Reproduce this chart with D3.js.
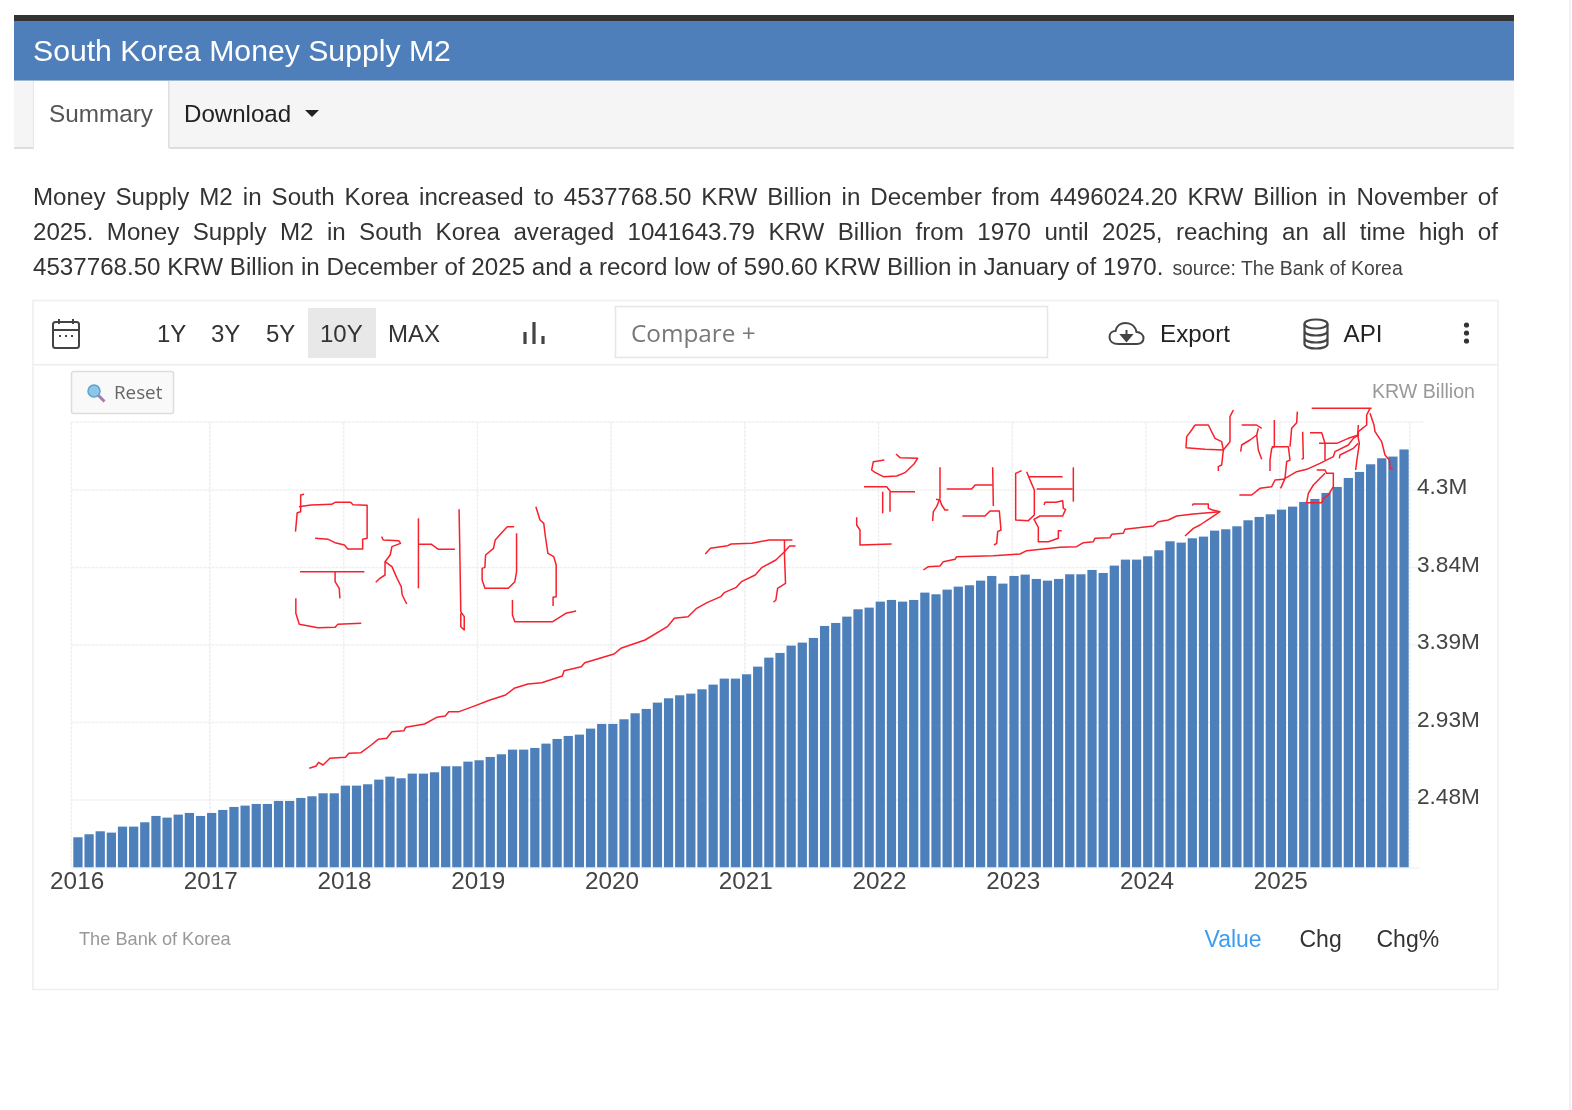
<!DOCTYPE html>
<html><head><meta charset="utf-8">
<script src="https://cdn.jsdelivr.net/npm/d3@7/dist/d3.min.js"></script>
<style>html,body{margin:0;padding:0;background:#fff;overflow:hidden}svg{display:block;filter:blur(0.4px)}text{font-family:"Liberation Sans",Arial,sans-serif}</style>
</head><body><script>
const years=["2016","2017","2018","2019","2020","2021","2022","2023","2024","2025"];
const monthNames=["01","02","03","04","05","06","07","08","09","10","11","12"];
const values2016=[2.2605,2.2781,2.2957,2.2879,2.3231,2.3231,2.3485,2.3857,2.3759,2.3936,2.4033,2.3857];
const values2017=[2.4033,2.4210,2.4386,2.4464,2.4562,2.4562,2.4738,2.4738,2.4914,2.5012,2.5188,2.5188];
const values2018=[2.5638,2.5638,2.5717,2.5991,2.6167,2.6069,2.6343,2.6343,2.6421,2.6774,2.6774,2.7048];
const values2019=[2.7126,2.7322,2.7478,2.7752,2.7752,2.7850,2.8105,2.8379,2.8555,2.8633,2.8986,2.9260];
const values2020=[2.9260,2.9534,2.9886,3.0141,3.0512,3.0767,3.0943,3.1041,3.1295,3.1569,3.1922,3.1922];
const values2021=[3.2176,3.2626,3.3155,3.3429,3.3859,3.4036,3.4310,3.5014,3.5190,3.5562,3.5993,3.6091];
const values2022=[3.6443,3.6541,3.6443,3.6541,3.6972,3.6874,3.7148,3.7324,3.7402,3.7676,3.7950,3.7500];
const values2023=[3.7950,3.8029,3.7774,3.7676,3.7774,3.8048,3.8048,3.8303,3.8126,3.8557,3.8909,3.8909];
const values2024=[3.9105,3.9457,3.9986,3.9908,4.0162,4.0260,4.0612,4.0691,4.0867,4.1219,4.1415,4.1571];
const values2025=[4.1845,4.2021,4.2295,4.2472,4.2824,4.3176,4.3705,4.4057,4.4507,4.4860,4.4960,4.5378];
const yTickValues=[2.48,2.935,3.39,3.845,4.3];
const yTickLabels=["2.48M","2.93M","3.39M","3.84M","4.3M"];
const rangeLabels=["1Y","3Y","5Y","10Y","MAX"];
const paragraph=[
"Money Supply M2 in South Korea increased to 4537768.50 KRW Billion in December from 4496024.20 KRW Billion in November of",
"2025. Money Supply M2 in South Korea averaged 1041643.79 KRW Billion from 1970 until 2025, reaching an all time high of",
"4537768.50 KRW Billion in December of 2025 and a record low of 590.60 KRW Billion in January of 1970."];
const sourceNote="source: The Bank of Korea";

const allValues=[].concat(values2016,values2017,values2018,values2019,values2020,values2021,values2022,values2023,values2024,values2025);
const months=years.flatMap(y=>monthNames.map(m=>y+"-"+m));

const W=1572,H=1110;
const svg=d3.select("body").append("svg").attr("width",W).attr("height",H).attr("viewBox",`0 0 ${W} ${H}`);
const rect=(x,y,w,h,fill,stroke,sw)=>svg.append("rect").attr("x",x).attr("y",y).attr("width",w).attr("height",h).attr("fill",fill).attr("stroke",stroke||"none").attr("stroke-width",sw||0);
const txt=(s,x,y,size,fill,anchor)=>svg.append("text").text(s).attr("x",x).attr("y",y).attr("font-size",size).attr("fill",fill).attr("text-anchor",anchor||"start");

// page chrome
rect(1569.5,0,1,H,"#e4e4e4");
rect(14,15,1500,6,"#333");
rect(14,21,1500,60,"#4e7fbb");
rect(14,80,1500,1,"#9fb7d6");
txt("South Korea Money Supply M2",33,61,30.2,"#fff");
rect(14,81,1500,67,"#f5f5f5");
rect(14,147,1500,2,"#dedede");
rect(33,81,136,68,"#fff");
rect(33,81,1,68,"#e6e6e6");
rect(168,81,1.5,67,"#dedede");
txt("Summary",49,122,24.3,"#555");
txt("Download",184,122,24.1,"#222");
svg.append("path").attr("d","M305 110h14l-7 7z").attr("fill","#222");

// paragraph, justified by measured word spacing
const parY=[205,240,275];
paragraph.forEach((line,i)=>{
  const t=txt(line,33,parY[i],24.15,"#333");
  if(i<2){
    const n=line.split(" ").length-1;
    const len=t.node().getComputedTextLength();
    t.attr("word-spacing",(1498-33-len)/n);
  }else{
    const len=t.node().getComputedTextLength();
    txt(sourceNote,33+len+9,275,19.4,"#444");
  }
});

// card and toolbar
rect(33,300.5,1465,689,"#fff","#eeeeee",1.5);
rect(33,364,1465,1.5,"#eeeeee");
const ink="#444";
const cal=svg.append("g").attr("fill","none").attr("stroke",ink).attr("stroke-width",2);
cal.append("rect").attr("x",53).attr("y",322).attr("width",26).attr("height",26).attr("rx",2.5);
cal.append("path").attr("d","M53 330h26M59 319v5M73 319v5");
cal.append("path").attr("d","M59 336h2M65 336h2M71 336h2").attr("stroke-width",2);
rect(308,308,68,50,"#e8e8e8");
const rangeX=[157,211,266,320,388];
rangeLabels.forEach((r,i)=>txt(r,rangeX[i],342,24,"#333"));
svg.append("path").attr("d","M525 332v12M534 322v22M543 336v8").attr("stroke",ink).attr("stroke-width",3.2).attr("fill","none");
rect(615.5,306.5,432,51,"#fff","#e6e6e6",1.5);
txt("Compare +",631,342,24.3,"#777").style("font-family","'Open Sans'");
svg.append("g").attr("transform","translate(2.5,0)").call(g=>{
  g.append("path").attr("d","M1116 344c-6 0-9-3-9-7s3-6 6-6c1-5 5-8 10-8 6 0 10 4 11 9 4 0 7 3 7 6 0 4-3 6-7 6z").attr("fill","none").attr("stroke",ink).attr("stroke-width",2);
  g.append("path").attr("d","M1124 330v8M1119 335l5 6 5-6z").attr("stroke",ink).attr("stroke-width",2).attr("fill",ink);
});
txt("Export",1160,342,24.2,"#222");
const db=svg.append("g").attr("fill","none").attr("stroke",ink).attr("stroke-width",2.2);
db.append("ellipse").attr("cx",1316).attr("cy",324).attr("rx",11.5).attr("ry",4.5);
db.append("path").attr("d","M1304.5 324v20c0 6 23 6 23 0v-20M1304.5 331c0 6 23 6 23 0M1304.5 338c0 6 23 6 23 0");
txt("API",1343.5,342,24.2,"#222");
[325,333,341].forEach(cy=>svg.append("circle").attr("cx",1466.5).attr("cy",cy).attr("r",2.6).attr("fill","#333"));
svg.append("rect").attr("x",71.5).attr("y",371.5).attr("width",102).attr("height",42).attr("rx",2).attr("fill","#f9f9f9").attr("stroke","#dddddd").attr("stroke-width",1.5);
svg.append("circle").attr("cx",94).attr("cy",391).attr("r",6).attr("fill","#8ec6e6").attr("stroke","#5aa3cf").attr("stroke-width",1.5);
svg.append("path").attr("d","M98.5 395.5l6 6").attr("stroke","#a87ca8").attr("stroke-width",3);
txt("Reset",114,399,18.8,"#666").style("font-family","'Open Sans'");
txt("KRW Billion",1475,398,19.6,"#999","end");

// chart
const plot={left:71.42,right:1410.58,top:422,bottom:867.5};
const x=d3.scaleBand().domain(months).range([plot.left,plot.right]).padding(0.17).align(0.5);
const y=d3.scaleLinear().domain([2.083,4.699]).range([plot.bottom,plot.top]);
const januaries=years.map(v=>v+"-01");

const gridStyle=s=>s.attr("stroke","#efefef").attr("stroke-width",1.5).attr("stroke-dasharray","3 1");
const hGrid=svg.append("g");
hGrid.selectAll("line").data(yTickValues.concat([4.699])).join("line")
  .attr("x1",plot.left).attr("x2",1424).attr("y1",d=>y(d)).attr("y2",d=>y(d)).call(gridStyle);
const vGrid=svg.append("g");
vGrid.selectAll("line").data(januaries.slice(1)).join("line")
  .attr("x1",d=>x(d)+x.bandwidth()/2-1.7).attr("x2",d=>x(d)+x.bandwidth()/2-1.7)
  .attr("y1",plot.top).attr("y2",plot.bottom).call(gridStyle);
svg.append("line").attr("x1",plot.left).attr("x2",plot.left).attr("y1",plot.top).attr("y2",plot.bottom).call(gridStyle);
svg.append("line").attr("x1",1410).attr("x2",1410).attr("y1",plot.top).attr("y2",plot.bottom).call(gridStyle);

svg.append("g").selectAll("rect").data(allValues).join("rect")
  .attr("x",(d,i)=>x(months[i])).attr("width",x.bandwidth())
  .attr("y",d=>y(d)).attr("height",d=>y.range()[0]-y(d)).attr("fill","#4d7fbb");
svg.append("line").attr("x1",plot.left).attr("x2",1420).attr("y1",plot.bottom+.5).attr("y2",plot.bottom+.5).attr("stroke","#e8edf4").attr("stroke-width",1);

const xAxis=d3.axisBottom(x).tickValues(januaries).tickSize(0).tickPadding(0).tickFormat(d=>d.slice(0,4));
const gx=svg.append("g").attr("transform",`translate(-0.8,${plot.bottom})`).call(xAxis);
gx.select(".domain").remove();
gx.selectAll("text").attr("font-size",24.3).attr("fill","#444").attr("y",21.5).attr("dy",0).style("font-family",'"Liberation Sans"');

const yAxis=d3.axisRight(y).tickValues(yTickValues).tickSize(0).tickPadding(0).tickFormat((d,i)=>yTickLabels[i]);
const gy=svg.append("g").attr("transform","translate(1417,0)").call(yAxis);
gy.select(".domain").remove();
gy.selectAll("text").attr("font-size",22.6).attr("fill","#444").attr("dy",4).style("font-family",'"Liberation Sans"');

txt("The Bank of Korea",79,945,18.2,"#999");
txt("Value",1204.5,947,23,"#3d9cf0");
txt("Chg",1299.5,947,23,"#333");
txt("Chg%",1376.5,947,23,"#333");

// hand-drawn red annotations, traced in crop pixels from an origin
const scribbleA=[
[[70,43],[60,45],[60,95],[50,98],[45,155]],
[[55,80],[90,75],[150,73],[160,67],[205,67],[212,74],[253,76],[253,175],[240,178],[240,207],[197,207],[187,195],[160,188],[140,178],[102,175]],
[[58,275],[245,275]],
[[160,275],[160,305],[172,325],[174,355]],
[[46,355],[46,400],[56,433],[110,443],[160,442],[168,433],[236,430]],
[[295,170],[300,180],[345,182],[350,190],[325,200],[320,225],[305,245],[305,285],[290,295],[278,307]],
[[305,245],[325,260],[340,295],[352,320],[355,345],[368,372]],
[[402,115],[402,325]],
[[402,193],[440,193],[460,208],[508,208]],
[[520,88],[522,200],[525,395],[535,410],[535,450],[525,440],[525,400]],
[[680,140],[660,140],[645,157],[625,180],[620,205],[597,225],[595,262],[587,265],[587,300],[595,325],[663,325],[682,305],[687,275],[687,160]],
[[743,80],[755,120],[766,130],[770,165],[778,220],[795,230],[802,255],[802,350],[793,352],[793,378]],
[[675,360],[675,405],[682,425],[792,425],[830,400],[860,393]],
[[85,865],[105,858],[112,847],[125,855],[145,835],[190,832],[200,820],[235,818],[265,795],[285,778],[310,775],[325,755],[360,752],[365,742],[420,732],[455,712],[480,708],[490,695],[520,695],[560,680],[610,660],[655,645],[680,625],[720,612],[760,608],[820,588],[825,572],[875,560],[885,548],[970,522],[990,505],[1060,480],[1125,440],[1145,415],[1185,410],[1210,385],[1240,368],[1280,350],[1290,338],[1325,322],[1340,305],[1380,285],[1400,262],[1440,240],[1465,215],[1480,198],[1497,198]],
[[1235,222],[1250,205],[1300,197],[1310,192],[1370,190],[1420,180],[1488,180]],
[[1465,180],[1465,225],[1468,310],[1445,325],[1440,360],[1433,367]]];
const scribbleB=[
[[168,42],[180,53],[233,55],[222,72],[195,98],[170,108],[130,110],[105,97],[95,90],[100,65],[133,60]],
[[72,140],[140,140],[152,155],[225,155]],
[[128,155],[128,220]],
[[150,155],[150,215]],
[[50,232],[50,255],[60,270],[60,315],[155,312]],
[[300,82],[300,175]],
[[288,178],[300,180],[305,195],[315,210],[325,210]],
[[300,175],[290,200],[280,215],[278,243]],
[[320,147],[395,147],[405,135],[458,135]],
[[458,82],[460,198]],
[[367,228],[435,228],[450,213],[478,213],[483,270],[473,275],[470,310],[462,315]],
[[545,92],[527,100],[527,240],[565,242],[583,225],[583,150],[568,115],[560,95]],
[[565,110],[668,110]],
[[590,147],[698,147]],
[[700,82],[700,185]],
[[612,195],[615,187],[648,187],[668,182],[670,205],[677,208],[668,228],[600,228],[582,238],[595,262],[595,305],[625,305],[655,295],[655,272],[665,272]],
[[250,390],[265,380],[300,378],[310,365],[345,358],[350,350],[460,347],[540,342],[560,332],[660,322],[710,320],[730,308],[760,305],[765,295],[810,293],[815,283],[850,280],[855,268],[940,258],[955,245],[985,240],[1010,228],[1060,222],[1140,215]],
[[1057,197],[1060,192],[1105,192],[1105,205],[1118,210],[1140,215],[1110,235],[1080,255],[1060,265],[1035,288]]];
const scribbleC=[
[[640,30],[630,50],[630,125],[610,150],[605,195],[595,200],[595,213]],
[[525,75],[565,75],[585,115],[605,125],[610,150],[555,148],[498,143],[500,110],[515,90],[525,75]],
[[665,75],[710,75],[725,85]],
[[715,85],[710,105],[690,120],[665,135],[662,155]],
[[710,105],[715,150],[725,178]],
[[763,60],[763,140],[755,145],[750,180],[750,213]],
[[755,140],[805,140],[810,180],[800,185],[795,235],[782,265]],
[[832,35],[830,68],[815,85],[810,140]],
[[848,95],[850,175],[845,178]],
[[870,98],[905,98],[915,130],[915,180]],
[[897,130],[950,130],[985,115],[1015,105]],
[[1015,75],[1013,105],[1018,130],[1010,185],[1007,210]],
[[875,25],[1055,25]],
[[1050,25],[1040,45],[1040,75],[1015,95],[1015,110]],
[[1050,40],[1062,75],[1065,95],[1085,125],[1095,165],[1108,180],[1110,205],[1118,207]],
[[658,285],[695,285],[720,265],[755,260],[765,240],[790,238],[830,215],[860,208],[900,190],[940,170],[945,155],[985,135],[1000,115],[1015,105]],
[[958,175],[960,165],[1000,145],[1015,130]],
[[890,210],[915,210],[920,220],[940,220],[940,260],[925,285],[910,295],[905,308],[860,308],[865,280],[880,255],[900,235],[915,220]]];
const inkLine=(ox,oy,sx)=>d3.line().x(p=>ox+p[0]/sx).y(p=>oy+p[1]/3);
[[scribbleA,280,480,2.904],[scribbleB,840,440,3],[scribbleC,1020,400,3]].forEach(([strokes,ox,oy,sx])=>{
  svg.append("g").selectAll("path").data(strokes).join("path")
    .attr("d",inkLine(ox,oy,sx)).attr("fill","none").attr("stroke","#f8202c").attr("stroke-width",1.5).attr("stroke-linejoin","round");
});
</script></body></html>
